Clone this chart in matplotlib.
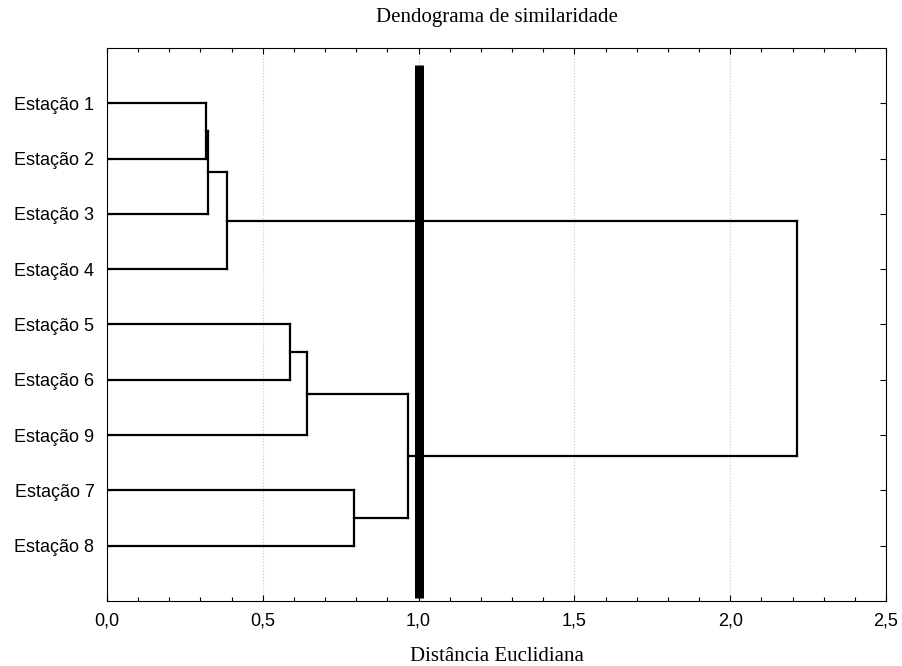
import numpy as np
import matplotlib
matplotlib.use("Agg")
import matplotlib.pyplot as plt
from matplotlib.ticker import MultipleLocator, FuncFormatter

# leaves in display order, top to bottom
labels = ['Estação 1', 'Estação 2', 'Estação 3', 'Estação 4', 'Estação 5',
          'Estação 6', 'Estação 9', 'Estação 7', 'Estação 8']
# merges: (cluster a, cluster b, distance); new clusters numbered from len(labels)
merge_a = [0, 9, 10, 4, 12, 7, 13, 11]
merge_b = [1, 2, 3, 5, 6, 8, 14, 15]
merge_h = [0.318, 0.325, 0.384, 0.587, 0.641, 0.793, 0.966, 2.214]
cut_dist = 1.0

fig = plt.figure(figsize=(9.02, 6.66), dpi=100)
ax = fig.add_axes([0.1186, 0.0976, 0.8637, 0.8304])

pos = {i: i + 1 for i in range(len(labels))}
hgt = {i: 0.0 for i in range(len(labels))}
for k, (a, b, h) in enumerate(zip(merge_a, merge_b, merge_h)):
    c = len(labels) + k
    for ch in (a, b):
        ax.plot([hgt[ch], h], [pos[ch], pos[ch]], color='black', lw=1.6,
                solid_capstyle='projecting', zorder=3)
    ax.plot([h, h], [pos[a], pos[b]], color='black', lw=1.6,
            solid_capstyle='projecting', zorder=3)
    pos[c] = (pos[a] + pos[b]) / 2
    hgt[c] = h

# cut line
ax.plot([cut_dist, cut_dist], [0.3, 9.95], color='black', lw=6.5,
        solid_capstyle='butt', zorder=4)

ax.set_xlim(0, 2.5)
ax.set_ylim(10, 0)
ax.set_yticks(range(1, len(labels) + 1))
ax.set_yticklabels(labels, family='Liberation Sans', fontsize=13, color='#222222')
ax.xaxis.set_major_locator(MultipleLocator(0.5))
ax.xaxis.set_minor_locator(MultipleLocator(0.1))
ax.xaxis.set_major_formatter(FuncFormatter(lambda v, p: f"{v:.1f}".replace('.', ',')))
for t in ax.get_xticklabels():
    t.set_family('Liberation Sans')
    t.set_fontsize(13)
    t.set_color('#222222')
ax.tick_params(axis='both', which='both', direction='in', top=True, right=True,
               colors='black', width=0.8)
ax.tick_params(axis='both', which='major', length=4)
ax.tick_params(axis='y', which='major', pad=9)
ax.tick_params(axis='x', which='major', pad=8)
ax.tick_params(axis='x', which='minor', length=3)
ax.grid(axis='x', which='major', color='#c8c8c8', linestyle=':', lw=0.8)
for s in ax.spines.values():
    s.set_linewidth(0.8)

ax.set_title('Dendograma de similaridade', family='Liberation Serif',
             fontsize=15, pad=19)
ax.set_xlabel('Distância Euclidiana', family='Liberation Serif', fontsize=15,
              labelpad=13)

fig.savefig('out.png', dpi=100)
